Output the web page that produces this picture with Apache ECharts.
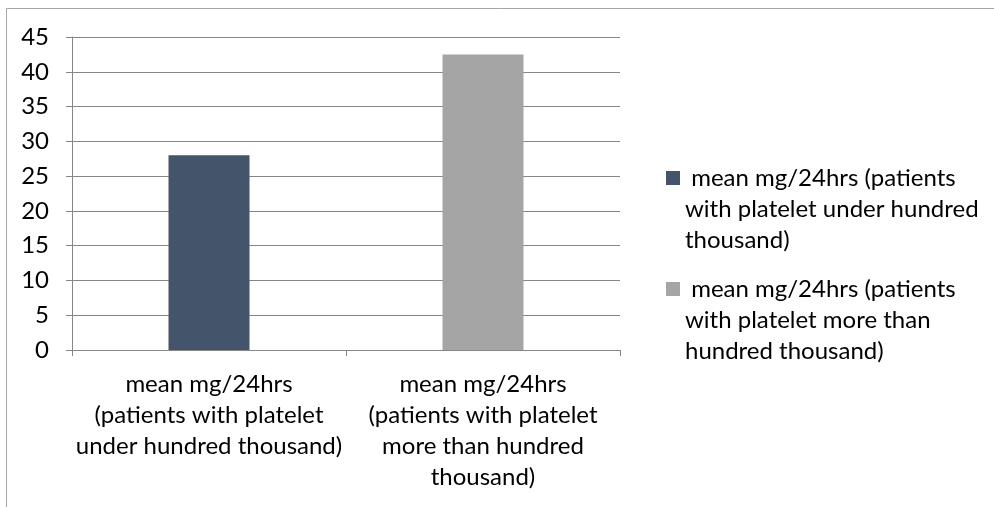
<!DOCTYPE html>
<html>
<head>
<meta charset="utf-8">
<script src="https://cdn.jsdelivr.net/npm/echarts@6/dist/echarts.min.js"></script>
<style>
  html, body { margin: 0; padding: 0; background: #fff; }
  #chart { width: 994px; height: 507px; }
</style>
</head>
<body>
<div id="chart"></div>
<script>
// categories and values
var categories = [
  'mean mg/24hrs (patients with platelet under hundred thousand)',
  'mean mg/24hrs (patients with platelet more than hundred thousand)'
];
var values = [28, 42.5];
var colors = ['#44546A', '#A5A5A5'];

// wrapped text as it shows under the axis and in the legend
var axisLabels = [
  'mean mg/24hrs\n(patients with platelet\nunder hundred thousand)',
  'mean mg/24hrs\n(patients with platelet\nmore than hundred\nthousand)'
];
var legendLabels = [
  ' mean mg/24hrs (patients\nwith platelet under hundred\nthousand)',
  ' mean mg/24hrs (patients\nwith platelet more than\nhundred thousand)'
];

var yMin = 0, yMax = 45, yStep = 5;
var font = 'Lato';

var chart = echarts.init(document.getElementById('chart'));

// one series per bar so the legend gets one entry per category,
// stacked so each bar sits centred in its own category
var series = categories.map(function (name, i) {
  var data = categories.map(function (c, j) { return j === i ? values[i] : '-'; });
  return {
    type: 'bar',
    name: name,
    stack: 'all',
    barWidth: 81,
    data: data,
    itemStyle: { color: colors[i] }
  };
});

var option = {
  animation: false,
  color: colors,
  textStyle: { fontFamily: font },
  graphic: [{
    type: 'polyline',
    silent: true,
    shape: { points: [[6.5, 507], [6.5, 8.5], [994, 8.5]] },
    style: { stroke: '#a6a6a6', lineWidth: 1, fill: null }
  }],
  grid: {
    left: 72, right: 374, top: 37, bottom: 157,
    containLabel: false,
    outerBoundsMode: 'none'
  },
  legend: {
    orient: 'vertical',
    left: 661,
    top: 158,
    itemWidth: 14,
    itemHeight: 93,
    itemGap: 18,
    // square drawn at the top of a tall box so it lines up with the first text line
    icon: 'path://M0,0L14,0M0,8L14,8L14,22L0,22ZM0,93L14,93',
    data: categories,
    formatter: function (name) {
      return legendLabels[categories.indexOf(name)];
    },
    textStyle: {
      fontFamily: font,
      fontSize: 24,
      lineHeight: 31,
      color: '#000'
    }
  },
  xAxis: {
    type: 'category',
    data: categories,
    axisLine: { lineStyle: { color: '#868686', width: 1 } },
    axisTick: { show: true, length: 6, lineStyle: { color: '#868686' } },
    axisLabel: {
      interval: 0,
      margin: 19,
      fontFamily: font,
      fontSize: 24,
      lineHeight: 31,
      color: '#000',
      align: 'center',
      formatter: function (v) { return axisLabels[categories.indexOf(v)]; }
    }
  },
  yAxis: {
    type: 'value',
    min: yMin,
    max: yMax,
    interval: yStep,
    axisLine: { show: true, lineStyle: { color: '#868686', width: 1 } },
    axisTick: { show: true, length: 6, lineStyle: { color: '#868686' } },
    axisLabel: {
      margin: 23,
      fontFamily: font,
      fontSize: 24,
      color: '#000'
    },
    splitLine: { lineStyle: { color: '#868686', width: 1 } }
  },
  series: series
};

chart.setOption(option);
</script>
</body>
</html>
